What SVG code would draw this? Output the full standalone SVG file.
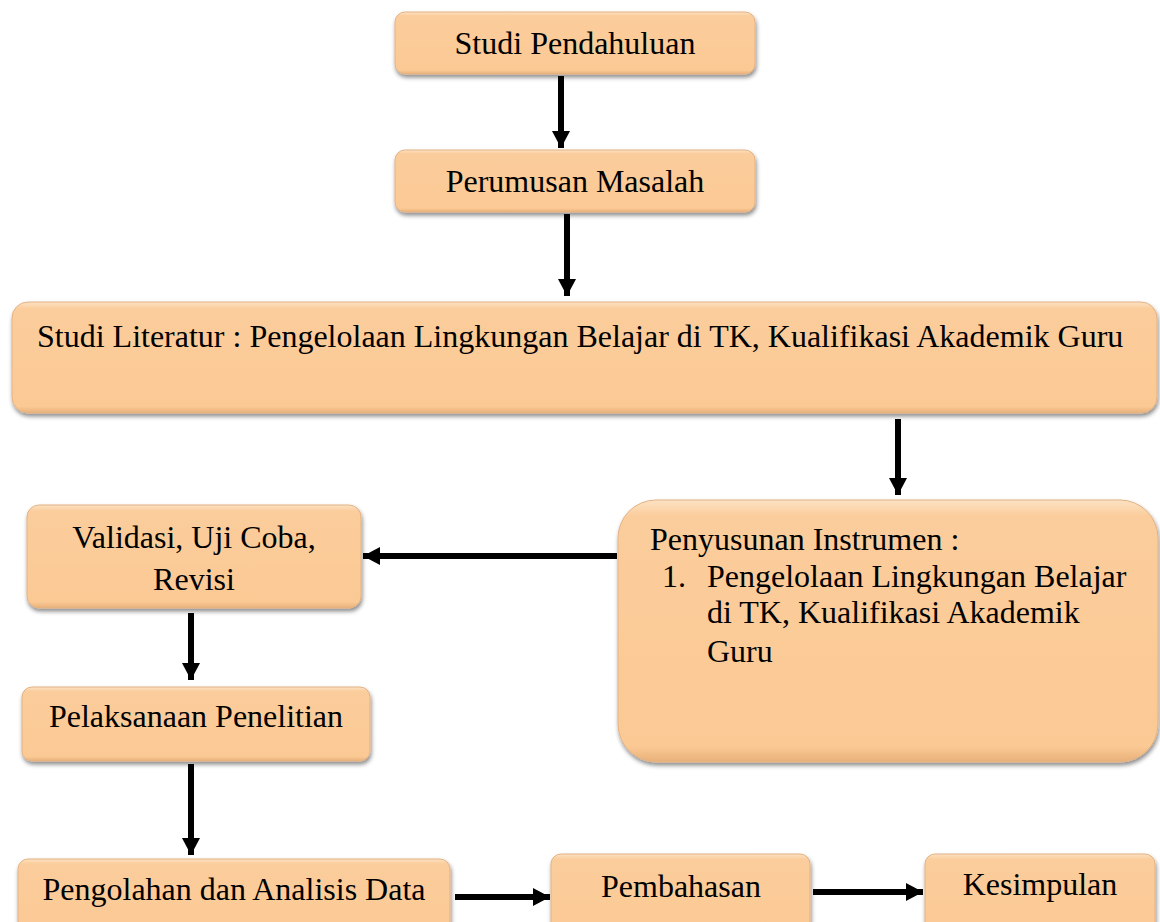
<svg xmlns="http://www.w3.org/2000/svg" width="1160" height="922" viewBox="0 0 1160 922">
<style>
.box{fill:url(#g);stroke:#E3B283;stroke-width:1;filter:url(#sh)}
.t{font-family:"Liberation Serif","Times New Roman",serif;font-size:32px;fill:#000}
.c{text-anchor:middle}
.a{stroke:#000;stroke-width:6;fill:none;marker-end:url(#ah)}
</style>
<defs>
<linearGradient id="g" x1="0" y1="0" x2="0" y2="1">
<stop offset="0" stop-color="#FCE2C4"/>
<stop offset="0.06" stop-color="#FBCD9C"/>
<stop offset="0.94" stop-color="#FBC994"/>
<stop offset="1" stop-color="#E8B07A"/>
</linearGradient>
<filter id="sh" x="-5%" y="-10%" width="112%" height="130%">
<feDropShadow dx="1" dy="3" stdDeviation="2.2" flood-color="#000" flood-opacity="0.45"/>
</filter>
<marker id="ah" markerUnits="userSpaceOnUse" markerWidth="20" markerHeight="20" refX="17" refY="10" orient="auto">
<path d="M0,1 L17,10 L0,19 z" fill="#000"/>
</marker>
</defs>
<g id="connectors">
<line class="a" x1="561" y1="76" x2="561" y2="148"/>
<line class="a" x1="567" y1="214" x2="567" y2="296"/>
<line class="a" x1="898" y1="419" x2="898" y2="495"/>
<line class="a" x1="617" y1="556" x2="363" y2="556"/>
<line class="a" x1="191" y1="613" x2="191" y2="680"/>
<line class="a" x1="191" y1="764" x2="191" y2="855"/>
<line class="a" x1="455" y1="897" x2="550" y2="897"/>
<line class="a" x1="813" y1="892" x2="923" y2="892"/>
</g>
<g id="n1"><rect class="box" x="395" y="12" width="360" height="62" rx="10"/><text class="t c" x="575" y="54">Studi Pendahuluan</text></g>
<g id="n2"><rect class="box" x="395" y="150" width="360" height="62" rx="10"/><text class="t c" x="575" y="192">Perumusan Masalah</text></g>
<g id="n3"><rect class="box" x="12" y="302" width="1145" height="111" rx="16"/><text class="t" x="37" y="347">Studi Literatur : Pengelolaan Lingkungan Belajar di TK, Kualifikasi Akademik Guru</text></g>
<g id="n4"><rect class="box" x="618" y="500" width="540" height="262" rx="38"/>
<text class="t" x="650" y="550">Penyusunan Instrumen :</text>
<text class="t" x="662" y="587">1.</text>
<text class="t" x="707" y="587">Pengelolaan Lingkungan Belajar</text>
<text class="t" x="707" y="623">di TK, Kualifikasi Akademik</text>
<text class="t" x="707" y="662">Guru</text></g>
<g id="n5"><rect class="box" x="27" y="505" width="334" height="103" rx="12"/><text class="t c" x="194" y="548">Validasi, Uji Coba,</text><text class="t c" x="194" y="590">Revisi</text></g>
<g id="n6"><rect class="box" x="22" y="687" width="348" height="74" rx="10"/><text class="t c" x="196" y="727">Pelaksanaan Penelitian</text></g>
<g id="n7"><rect class="box" x="18" y="859" width="432" height="80" rx="10"/><text class="t c" x="234" y="900">Pengolahan dan Analisis Data</text></g>
<g id="n8"><rect class="box" x="551" y="854" width="259" height="85" rx="10"/><text class="t c" x="681" y="897">Pembahasan</text></g>
<g id="n9"><rect class="box" x="925" y="854" width="230" height="85" rx="10"/><text class="t c" x="1040" y="895">Kesimpulan</text></g>
</svg>
